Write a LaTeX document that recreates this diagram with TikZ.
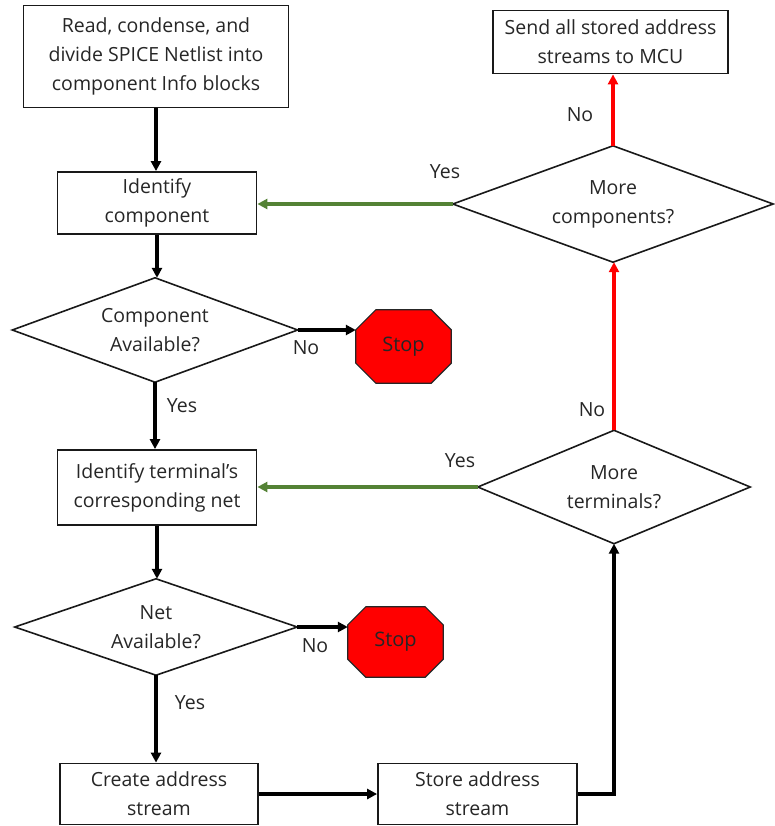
\documentclass[tikz,border=0pt]{standalone}
\usepackage{fontspec}
\setmainfont{Open Sans}
\usetikzlibrary{arrows.meta,calc}
\pgfdeclarelayer{bg}
\pgfsetlayers{bg,main}
\definecolor{yesgreen}{HTML}{548235}
\definecolor{nored}{HTML}{FF0000}
\definecolor{inkgray}{HTML}{262626}

% red stop sign drawn behind a named text node
\newcommand\stopoutline[2]{%
  \begin{pgfonlayer}{bg}
  \filldraw[fill=nored, draw=black!85, line width=1.2pt]
    ($(#1.north west)+(#2,0)$) -- ($(#1.north east)+(-#2,0)$) --
    ($(#1.north east)+(0,#2)$) -- ($(#1.south east)+(0,-#2)$) --
    ($(#1.south east)+(-#2,0)$) -- ($(#1.south west)+(#2,0)$) --
    ($(#1.south west)+(0,-#2)$) -- ($(#1.north west)+(0,#2)$) -- cycle;
  \end{pgfonlayer}}

% decision outline through the mid-points of a named node
\newcommand\decisionoutline[1]{%
  \draw[line width=1.6pt, draw=black!90]
    (#1.north) -- (#1.east) -- (#1.south) -- (#1.west) -- cycle;}

\begin{document}
\begin{tikzpicture}[x=1pt,y=-1pt,
  every node/.style={font=\fontsize{19.5}{29}\selectfont, text=inkgray},
  proc/.style={draw=black!90, line width=1.8pt, align=center, inner sep=0pt},
  decision/.style={align=center, inner sep=0pt},
  stoptext/.style={inner sep=0pt, text=black!85, font=\fontsize{20}{24}\selectfont},
  flow/.style={line width=3.2pt, draw=black, -{Triangle[length=10pt,width=10pt]}},
  yesflow/.style={flow, draw=yesgreen, -{Triangle[length=10pt,width=10pt,fill=yesgreen]}},
  noflow/.style={flow, draw=nored, -{Triangle[length=10pt,width=10pt,fill=nored]}},
  lbl/.style={inner sep=0pt},
]
\useasboundingbox (0,0) rectangle (774,826);

% process boxes
\node[proc, minimum width=265, minimum height=102] (read) at (156,56.5)
  {Read, condense, and\\divide SPICE Netlist into\\component Info blocks};
\node[proc, minimum width=199, minimum height=62] (comp) at (157,203)
  {Identify\\component};
\node[proc, minimum width=199, minimum height=75] (term) at (157,487.5)
  {Identify terminal’s\\corresponding net};
\node[proc, minimum width=198, minimum height=61] (create) at (159,794)
  {Create address\\stream};
\node[proc, minimum width=199, minimum height=61] (store) at (477.5,794)
  {Store address\\stream};
\node[proc, minimum width=235, minimum height=63] (send) at (610.5,42)
  {Send all stored address\\streams to MCU};

% decisions
\node[decision, minimum width=285, minimum height=104] (compok) at (155,330)
  {Component\\Available?};
\decisionoutline{compok}
\node[decision, minimum width=282, minimum height=96] (netok) at (156,627)
  {Net\\Available?};
\decisionoutline{netok}
\node[decision, minimum width=272, minimum height=113] (moreterm) at (614,487)
  {More\\terminals?};
\decisionoutline{moreterm}
\node[decision, minimum width=320, minimum height=116] (morecomp) at (613,204)
  {More\\components?};
\decisionoutline{morecomp}

% stop signs
\node[stoptext, minimum width=95, minimum height=73] (stopA) at (403.5,346.5) {Stop};
\stopoutline{stopA}{20}
\node[stoptext, minimum width=95, minimum height=70] (stopB) at (395.5,642) {Stop};
\stopoutline{stopB}{18}

% main flow
\draw[flow] (read.south) -- (read.south |- comp.north);
\draw[flow] (comp.south) -- (comp.south |- compok.north);
\draw[flow] (compok.south) -- (compok.south |- term.north);
\draw[flow] (compok.east) -- (compok.east -| stopA.west);
\draw[flow] (term.south) -- (term.south |- netok.north);
\draw[flow] (netok.east) -- (netok.east -| stopB.west);
\draw[flow] (netok.south) -- (netok.south |- create.north);
\draw[flow] (create.east) -- (store.west);
\draw[flow] (store.east) -| (moreterm.south);

% loop-back branches
\draw[yesflow] (moreterm.west) -- (moreterm.west -| term.east);
\draw[noflow] (moreterm.north) -- (moreterm.north |- morecomp.south);
\draw[yesflow] (morecomp.west) -- (morecomp.west -| comp.east);
\draw[noflow] (morecomp.north) -- (morecomp.north |- send.south);

% branch labels
\node[lbl] (lnoA) at (306,348) {No};
\node[lbl] (lyesA) at (182,406) {Yes};
\node[lbl] (lnoB) at (315,646) {No};
\node[lbl] (lyesB) at (190,703) {Yes};
\node[lbl] (lyesC) at (460,461) {Yes};
\node[lbl] (lnoC) at (592,410) {No};
\node[lbl] (lyesD) at (445,172) {Yes};
\node[lbl] (lnoD) at (580,115) {No};
\end{tikzpicture}
\end{document}
